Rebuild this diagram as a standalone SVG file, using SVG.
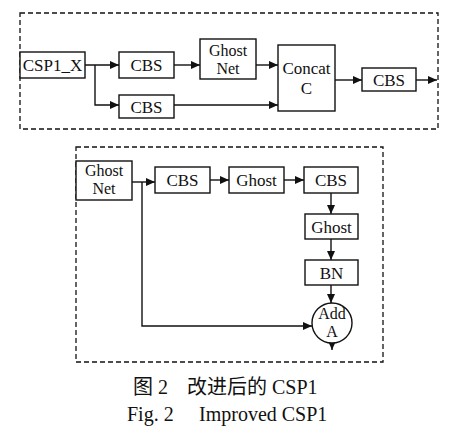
<svg xmlns="http://www.w3.org/2000/svg" width="463" height="439" viewBox="0 0 463 439">
<defs>
<marker id="ah" markerWidth="9" markerHeight="8" refX="9" refY="4" orient="auto" markerUnits="userSpaceOnUse">
<path d="M0,0 L9,4 L0,8 Z" fill="#111"/>
</marker>
<style>
.box{fill:#fff;stroke:#111;stroke-width:1.4}
.dash{fill:none;stroke:#111;stroke-width:1.3;stroke-dasharray:5,3}
.t{font-family:"Liberation Serif","Times New Roman",serif;font-size:17px;fill:#111;text-anchor:middle}
.t2{font-size:16px}
.c{fill:none;stroke:#111;stroke-width:1.4}
.cap{font-family:"Liberation Serif","Noto Sans CJK SC",serif;font-size:20px;fill:#111}
</style>
</defs>
<rect width="463" height="439" fill="#fff"/>
<rect class="dash" x="20" y="13" width="418" height="116"/>
<rect class="dash" x="76" y="147" width="307" height="215"/>
<g id="connectors">
<path class="c" d="M85,65 H119" marker-end="url(#ah)"/>
<path class="c" d="M95,65 V105 H119" marker-end="url(#ah)"/>
<path class="c" d="M174,65 H200" marker-end="url(#ah)"/>
<path class="c" d="M256,65 H278" marker-end="url(#ah)"/>
<path class="c" d="M174,105 H278" marker-end="url(#ah)"/>
<path class="c" d="M335,80 H362" marker-end="url(#ah)"/>
<path class="c" d="M416,80 H437" marker-end="url(#ah)"/>
<path class="c" d="M132,182 H155" marker-end="url(#ah)"/>
<path class="c" d="M210,180 H229" marker-end="url(#ah)"/>
<path class="c" d="M284,180 H304" marker-end="url(#ah)"/>
<path class="c" d="M331,193 V214" marker-end="url(#ah)"/>
<path class="c" d="M331,239 V260" marker-end="url(#ah)"/>
<path class="c" d="M331,285 V303" marker-end="url(#ah)"/>
<path class="c" d="M142,182 V326 H312" marker-end="url(#ah)"/>
<path class="c" d="M332,343 V350" marker-end="url(#ah)"/>
</g>
<g id="csp1x"><rect class="box" x="20" y="52" width="65" height="26"/><text class="t" x="52.5" y="71">CSP1_X</text></g>
<g id="cbs1"><rect class="box" x="119" y="52" width="55" height="26"/><text class="t" x="146.5" y="71">CBS</text></g>
<g id="ghostnet1"><rect class="box" x="200" y="39" width="56" height="40"/><text class="t t2" x="228" y="56">Ghost</text><text class="t t2" x="228" y="74">Net</text></g>
<g id="concat"><rect class="box" x="278" y="45" width="57" height="66"/><text class="t" x="306.5" y="74">Concat</text><text class="t" x="306.5" y="94">C</text></g>
<g id="cbs3"><rect class="box" x="362" y="68" width="54" height="23"/><text class="t" x="389" y="85.5">CBS</text></g>
<g id="cbs2"><rect class="box" x="119" y="95" width="55" height="23"/><text class="t" x="146.5" y="112.5">CBS</text></g>
<g id="ghostnet2"><rect class="box" x="76" y="161" width="56" height="39"/><text class="t t2" x="104" y="176">Ghost</text><text class="t t2" x="104" y="194">Net</text></g>
<g id="cbs4"><rect class="box" x="155" y="167" width="55" height="26"/><text class="t" x="182.5" y="186">CBS</text></g>
<g id="ghost1"><rect class="box" x="229" y="167" width="55" height="26"/><text class="t" x="256.5" y="186">Ghost</text></g>
<g id="cbs5"><rect class="box" x="304" y="167" width="54" height="26"/><text class="t" x="331" y="186">CBS</text></g>
<g id="ghost2"><rect class="box" x="305" y="214" width="53" height="25"/><text class="t" x="331.5" y="232.5">Ghost</text></g>
<g id="bn"><rect class="box" x="305" y="260" width="53" height="25"/><text class="t" x="331.5" y="278.5">BN</text></g>
<g id="add"><circle class="box" cx="332" cy="323" r="20"/><text class="t t2" x="332" y="319">Add</text><text class="t t2" x="332" y="337">A</text></g>
<g id="caption">
<text class="cap" x="133" y="394">图 2</text>
<text class="cap" x="187" y="394">改进后的 CSP1</text>
<text class="cap" x="127" y="421">Fig. 2</text>
<text class="cap" x="199" y="421">Improved CSP1</text>
</g>
</svg>
